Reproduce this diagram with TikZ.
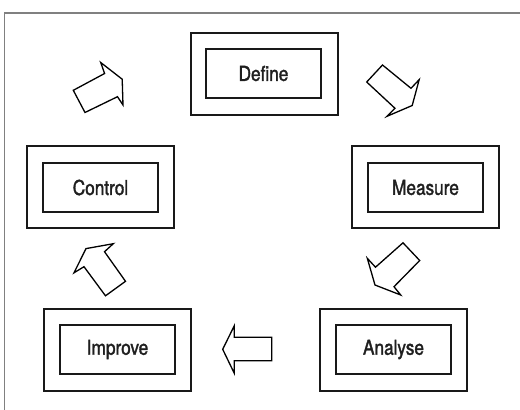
\documentclass[tikz,border=0pt]{standalone}
\usepackage{fontspec}
\setmainfont{TeX Gyre Heros}[FakeStretch=0.84,FakeBold=1.6]
\begin{document}
\begin{tikzpicture}[x=1pt,y=-1pt,
  outerbox/.style={draw=black!90,line width=2pt,minimum width=147pt,minimum height=82pt,inner sep=0pt},
  stagebox/.style={draw=black!90,line width=2pt,minimum width=115pt,minimum height=49pt,inner sep=0pt,
    font=\fontsize{20.5}{20.5}\selectfont,text=black!88},
  blockarrow/.style={draw=black,line width=1.3pt,line join=miter,fill=white},
  frameline/.style={draw=black!50,line width=1.5pt}]
\useasboundingbox (0,0) rectangle (520,410);

% page frame (left and top edges)
\draw[frameline] (4.5,410) -- (4.5,13) -- (520,13);

% the five stages, each a framed box inside a box
\node[outerbox] (defO) at (264.5,74) {};
\node[stagebox] (def) at (263.5,73.5) {Define};
\node[outerbox] (meaO) at (425.5,187) {};
\node[stagebox] (mea) at (425.5,187.5) {Measure};
\node[outerbox] (anaO) at (393.5,350) {};
\node[stagebox] (ana) at (393.5,349.5) {Analyse};
\node[outerbox] (impO) at (117.5,350) {};
\node[stagebox] (imp) at (117.5,349.5) {Improve};
\node[outerbox] (conO) at (100.5,187) {};
\node[stagebox] (con) at (100.5,187.5) {Control};

% block arrows running round the cycle
\draw[blockarrow] (366.7,82) -- (382.5,65) -- (411,88.3) -- (419.2,79.6)
  -- (412.2,105.5) -- (387,116.3) -- (395,108.3) -- cycle;
\draw[blockarrow] (403,242.8) -- (419.7,260.5) -- (394,286.7) -- (400.7,295)
  -- (375,285) -- (367.3,258.3) -- (375.5,267.2) -- cycle;
\draw[blockarrow] (271.7,337.3) -- (234.3,337.3) -- (234.3,325.7) -- (222.7,349.3)
  -- (234.3,373.3) -- (234.3,360.7) -- (271.7,360.7) -- cycle;
\draw[blockarrow] (125.5,281.3) -- (105.5,295.8) -- (84,266.7) -- (74,272.8)
  -- (86,248.6) -- (113.3,243.7) -- (104.5,251.7) -- cycle;
\draw[blockarrow] (73.3,90.3) -- (104.6,73.5) -- (100.7,62.5) -- (122.2,79.2)
  -- (123,105) -- (117.5,96.7) -- (85,112.5) -- cycle;
\end{tikzpicture}
\end{document}
